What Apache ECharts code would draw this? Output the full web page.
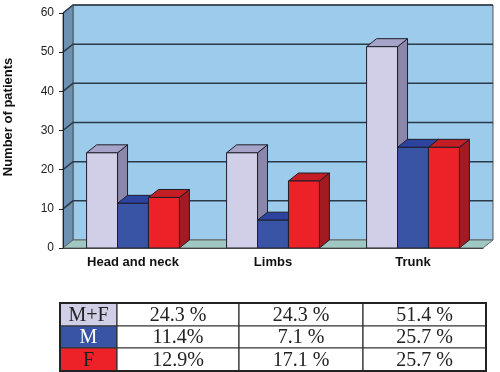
<!DOCTYPE html>
<html>
<head>
<meta charset="utf-8">
<script src="https://cdn.jsdelivr.net/npm/echarts@6/dist/echarts.min.js"></script>
<style>
  html,body{margin:0;padding:0;background:#fff;}
  #chart{width:500px;height:372px;}
</style>
</head>
<body>
<div id="chart"></div>
<script>
// data
var categories = ['Head and neck', 'Limbs', 'Trunk'];
var mfValues = [24.3, 24.3, 51.4];
var mValues = [11.4, 7.1, 25.7];
var fValues = [12.9, 17.1, 25.7];
var gridTicks = [10, 20, 30, 40, 50, 60];

// table under the chart
var rowLabels = ['M+F', 'M', 'F'];
var mfText = ['24.3 %', '24.3 %', '51.4 %'];
var mText = ['11.4%', '7.1 %', '25.7 %'];
var fText = ['12.9%', '17.1 %', '25.7 %'];

var DX = 10, DY = 8; // fake depth

var colors = [
  {front: '#d0cfe7', top: '#a6a3c9', side: '#8a87aa'},
  {front: '#3953a5', top: '#2d43a0', side: '#293a86'},
  {front: '#ed2228', top: '#c41e24', side: '#a11b20'}
];

var chart = echarts.init(document.getElementById('chart'));

function wallsItem(params, api) {
  var cs = params.coordSys;
  var x0 = cs.x, x1 = cs.x + cs.width;
  var yb = api.coord([0, 0])[1];
  var yt = api.coord([0, 60])[1];
  var kids = [];
  // back wall
  kids.push({type: 'rect', shape: {x: x0 + DX, y: yt - DY, width: x1 - x0, height: yb - yt},
    style: {fill: '#9ccbec', stroke: '#555', lineWidth: 1}});
  // left wall
  kids.push({type: 'polygon', shape: {points: [[x0, yb], [x0, yt], [x0 + DX, yt - DY], [x0 + DX, yb - DY]]},
    style: {fill: '#6c91b3', stroke: '#555', lineWidth: 1}});
  // floor
  kids.push({type: 'polygon', shape: {points: [[x0, yb], [x1, yb], [x1 + DX, yb - DY], [x0 + DX, yb - DY]]},
    style: {fill: '#9ec8c1', stroke: '#666', lineWidth: 1}});
  gridTicks.forEach(function (v) {
    var y = api.coord([0, v])[1];
    kids.push({type: 'polyline', shape: {points: [[x0, y], [x0 + DX, y - DY], [x1 + DX, y - DY]]},
      style: {stroke: '#2a3a48', lineWidth: 1.5, fill: null}});
  });
  return {type: 'group', children: kids};
}

function barRenderer(idx) {
  return function (params, api) {
    var cat = api.value(0);
    var p = api.coord([cat, api.value(1)]);
    var base = api.coord([cat, 0]);
    var band = api.size([1, 0])[0];
    var w = band * 0.221;
    var x = p[0] + (idx - 1.5) * w;
    var y = p[1], yb = base[1];
    var c = colors[idx];
    var ln = {stroke: '#1e1e2a', lineWidth: 1};
    return {type: 'group', children: [
      {type: 'polygon', shape: {points: [[x + w, y], [x + w + DX, y - DY], [x + w + DX, yb - DY], [x + w, yb]]},
        style: Object.assign({fill: c.side}, ln)},
      {type: 'polygon', shape: {points: [[x, y], [x + DX, y - DY], [x + w + DX, y - DY], [x + w, y]]},
        style: Object.assign({fill: c.top}, ln)},
      {type: 'rect', shape: {x: x, y: y, width: w, height: yb - y},
        style: Object.assign({fill: c.front}, ln)}
    ]};
  };
}

function toData(vals) {
  return vals.map(function (v, i) { return [i, v]; });
}

// table graphics
var tbl = [];
var colX = [60, 117, 239, 363, 486];
var rowY = [303, 326, 348, 371];
var cellFill = ['#d0cfe7', '#3953a5', '#ed2228'];
var labelColor = ['#222', '#fff', '#222'];
var rows = [mfText, mText, fText];
var tfont = '20px "Liberation Serif"';
for (var r = 0; r < 3; r++) {
  tbl.push({type: 'rect', shape: {x: colX[0], y: rowY[r], width: colX[1] - colX[0], height: rowY[r + 1] - rowY[r]},
    style: {fill: cellFill[r], stroke: '#333', lineWidth: 1.2}});
  tbl.push({type: 'text', x: (colX[0] + colX[1]) / 2, y: (rowY[r] + rowY[r + 1]) / 2 + 1,
    style: {text: rowLabels[r], fill: labelColor[r], font: tfont, align: 'center', verticalAlign: 'middle'}});
  for (var c = 0; c < 3; c++) {
    tbl.push({type: 'rect', shape: {x: colX[c + 1], y: rowY[r], width: colX[c + 2] - colX[c + 1], height: rowY[r + 1] - rowY[r]},
      style: {fill: '#fff', stroke: '#333', lineWidth: 1.2}});
    tbl.push({type: 'text', x: (colX[c + 1] + colX[c + 2]) / 2, y: (rowY[r] + rowY[r + 1]) / 2 + 1,
      style: {text: rows[r][c], fill: '#222', font: tfont, align: 'center', verticalAlign: 'middle'}});
  }
}
tbl.push({type: 'rect', shape: {x: colX[0], y: rowY[0], width: colX[4] - colX[0], height: rowY[3] - rowY[0]},
  style: {fill: null, stroke: '#222', lineWidth: 2}});
tbl.push({type: 'text', x: 8, y: 117, rotation: Math.PI / 2,
  style: {text: 'Number of patients', fill: '#111', font: 'bold 13px "Liberation Sans"', align: 'center', verticalAlign: 'middle'}});

chart.setOption({
  animation: false,
  grid: {left: 63, right: 17, top: 13, bottom: 124},
  xAxis: {
    type: 'category',
    data: categories,
    z: 5,
    axisLine: {lineStyle: {color: '#444'}},
    axisTick: {length: 3, lineStyle: {color: '#444'}},
    axisLabel: {color: '#111', fontWeight: 'bold', fontSize: 13, fontFamily: 'Liberation Sans', margin: 8}
  },
  yAxis: {
    type: 'value',
    min: 0, max: 60, interval: 10,
    z: 5,
    axisLine: {show: true, lineStyle: {color: '#222'}},
    axisTick: {show: true, length: 4, lineStyle: {color: '#222'}},
    axisLabel: {color: '#222', fontSize: 12, fontFamily: 'Liberation Sans', margin: 9},
    splitLine: {show: false}
  },
  graphic: tbl,
  series: [
    {type: 'custom', name: 'walls', data: [[0, 0]], renderItem: wallsItem, clip: false, z: 1, silent: true},
    {type: 'custom', name: 'M+F', data: toData(mfValues), renderItem: barRenderer(0), clip: false, z: 2},
    {type: 'custom', name: 'M', data: toData(mValues), renderItem: barRenderer(1), clip: false, z: 3},
    {type: 'custom', name: 'F', data: toData(fValues), renderItem: barRenderer(2), clip: false, z: 4}
  ]
});
</script>
</body>
</html>
